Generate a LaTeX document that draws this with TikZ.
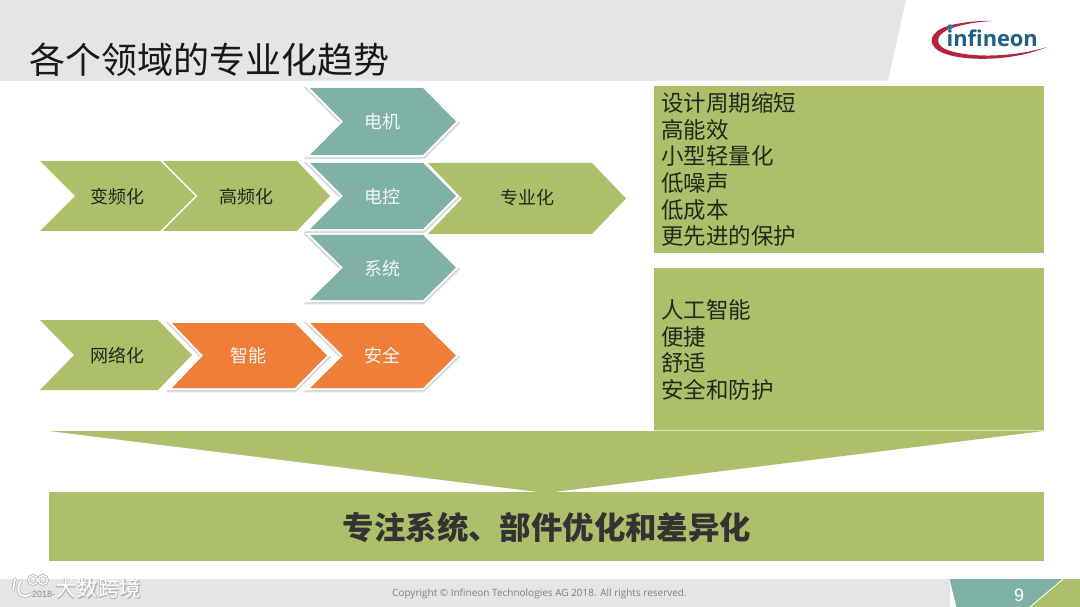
\documentclass[tikz,border=0pt]{standalone}
\usepackage{fontspec}
\setmainfont{Noto Sans CJK SC}
\newfontfamily\latinf{Liberation Sans}
\newfontfamily\logof{Open Sans}
\usetikzlibrary{calc}
\definecolor{ogreen}{HTML}{ADBF6A}
\definecolor{oteal}{HTML}{7FB2A4}
\definecolor{oorange}{HTML}{EE7E38}
\definecolor{ogray}{HTML}{E5E4E6}
\definecolor{otext}{HTML}{1F2A1A}
\definecolor{ored}{HTML}{B5243C}
\definecolor{oblue}{HTML}{1F5F86}
\tikzset{x=1pt,y=-1pt,
  lbl/.style={font=\fontsize{18}{20}\selectfont,text=otext,inner sep=0pt},
  wlbl/.style={font=\fontsize{18}{20}\selectfont,text=white!90!oteal,inner sep=0pt},
  boxtxt/.style={font=\fontsize{22.5}{26.7}\selectfont,text=otext,inner sep=0pt,align=left,anchor=north west},
  pane/.style={fill=ogreen,draw=none},
  wmhalo/.style={inner sep=0pt,anchor=west,text=black!28,font=\fontsize{21.5}{24}\bfseries\selectfont}}
% left,notch,topright,tip,top,bottom,colour : chevron with white rim and soft shadow
\newcommand{\chevS}[7]{%
  \pgfmathsetmacro{\mymid}{(#5+#6)/2}
  \draw[black!14,line width=5.5pt,line join=miter] (#1,#5+1.5) -- (#3,#5+1.5) -- (#4+.5,\mymid+1.5) -- (#3,#6+1.5) -- (#1,#6+1.5) -- (#2,\mymid+1.5) -- cycle;
  \draw[white,line width=3.6pt,line join=miter] (#1,#5) -- (#3,#5) -- (#4,\mymid) -- (#3,#6) -- (#1,#6) -- (#2,\mymid) -- cycle;
  \fill[#7] (#1,#5) -- (#3,#5) -- (#4,\mymid) -- (#3,#6) -- (#1,#6) -- (#2,\mymid) -- cycle;
}
% the same with a thin white rim only
\newcommand{\chevP}[7]{%
  \pgfmathsetmacro{\mymid}{(#5+#6)/2}
  \draw[white,line width=3.2pt,line join=miter,fill=#7] (#1,#5) -- (#3,#5) -- (#4,\mymid) -- (#3,#6) -- (#1,#6) -- (#2,\mymid) -- cycle;
  \fill[#7] (#1,#5) -- (#3,#5) -- (#4,\mymid) -- (#3,#6) -- (#1,#6) -- (#2,\mymid) -- cycle;
}
\begin{document}
\begin{tikzpicture}
\useasboundingbox (0,0) rectangle (1080,607);
\fill[white] (0,0) rectangle (1080,607);
% header
\fill[ogray] (0,0) -- (906,0) -- (888,81) -- (0,81) -- cycle;
\node[inner sep=0pt,anchor=west,text=black!90] (title) at (29,60) {\fontsize{36}{40}\selectfont 各个领域的专业化趋势};
% logo
\fill[ored] (1047,47) .. controls (1012,62) and (958,62) .. (939,51) .. controls (926,43) and (931,31) .. (948,26) .. controls (962,22) and (980,20.5) .. (992,21) .. controls (975,22) and (958,25) .. (947,30) .. controls (936,36) and (935,44) .. (945,49) .. controls (965,58) and (1012,58) .. (1047,47) -- cycle;
\node[inner sep=0pt,anchor=base west,text=oblue] (logo) at (946.5,47) {\logof\bfseries\fontsize{21.8}{24}\selectfont infineon};
\fill[oblue!80!cyan] (950,27) circle (2.7pt);
% chevrons
\chevP{163}{195}{297}{330}{161}{231}{ogreen}
\chevP{40}{75}{160}{195}{161}{231}{ogreen}
\chevP{428}{462}{592}{626}{163}{234}{ogreen}
\chevP{40}{74}{158}{192}{320}{390}{ogreen}
\chevS{172}{203}{295}{327}{323}{388}{oorange}
\chevS{310}{343}{423}{456}{323}{388}{oorange}
\chevS{310}{343}{423}{456}{88}{155}{oteal}
\chevS{310}{343}{423}{456}{163}{229}{oteal}
\chevS{310}{343}{423}{456}{235}{300}{oteal}
\node[lbl] (a1) at (117,197) {变频化};
\node[lbl] (a2) at (246,197) {高频化};
\node[lbl] (a3) at (527,198) {专业化};
\node[lbl] (a4) at (117,356) {网络化};
\node[wlbl] (b1) at (248,356) {智能};
\node[wlbl] (b2) at (382,356) {安全};
\node[wlbl] (c1) at (382,122) {电机};
\node[wlbl] (c2) at (382,197) {电控};
\node[wlbl] (c3) at (382,268.5) {系统};
% right panes
\fill[ogreen] (49,431) -- (1044,431) -- (546,493) -- cycle;
\fill[pane] (654,86) rectangle (1044,253);
\fill[pane] (654,268) rectangle (1044,430);
\draw[white!55!ogreen,line width=.9pt] (654,430.5) -- (1044,430.5);
\node[boxtxt] (t1) at (661,92.3) {设计周期缩短\\高能效\\小型轻量化\\低噪声\\低成本\\更先进的保护};
\node[boxtxt] (t2) at (661,299.3) {人工智能\\便捷\\舒适\\安全和防护};
% bar
\fill[pane] (49,492) rectangle (1044,561);
\node[inner sep=0pt,text=black!80,font=\bfseries\fontsize{31.4}{34}\selectfont] (bar) at (547,528) {专注系统、部件优化和差异化};
% footer
\fill[ogray] (0,579) rectangle (950,607);
\fill[oteal] (949,579) -- (1063,579) -- (1030,607) -- (956,607) -- cycle;
\fill[ogreen] (1063,579) -- (1080,579) -- (1080,607) -- (1030,607) -- cycle;
\draw[white,line width=.8pt] (949,579) -- (956,607);
\draw[white,line width=.8pt] (1063,579) -- (1030,607);
\node[inner sep=0pt,text=white] (num) at (1019,595) {\fontsize{18}{20}\selectfont\latinf 9};
\node[inner sep=0pt,text=black!50,anchor=west] (copy) at (392,594) {\logof\fontsize{10}{12}\selectfont Copyright © Infineon Technologies AG 2018. All rights reserved.};
\node[inner sep=0pt,text=black!45,anchor=west] (date) at (32,594) {\latinf\fontsize{9}{11}\selectfont 2018-};
% watermark
\draw[black!28,line width=3.4pt,line cap=round] (15,579) -- (13,590);
\draw[black!28,line width=3.4pt,line cap=round] (31,594) .. controls (22,600) and (14,592) .. (21,581);
\draw[black!28,line width=3pt] (33,580) circle (4.5pt);
\draw[black!28,line width=3pt] (43,580) circle (4.5pt);
\draw[white,line width=1.7pt,line cap=round] (15,579) -- (13,590);
\draw[white,line width=1.7pt,line cap=round] (31,594) .. controls (22,600) and (14,592) .. (21,581);
\draw[white,line width=1.2pt] (33,580) circle (4.5pt);
\draw[white,line width=1.2pt] (43,580) circle (4.5pt);
\node[wmhalo] (wm0) at (55.8,588.8) {大数跨境};
\node[inner sep=0pt,anchor=west,text=white,font=\fontsize{21.5}{24}\selectfont] (wm) at (55,588) {大数跨境};
\end{tikzpicture}
\end{document}
